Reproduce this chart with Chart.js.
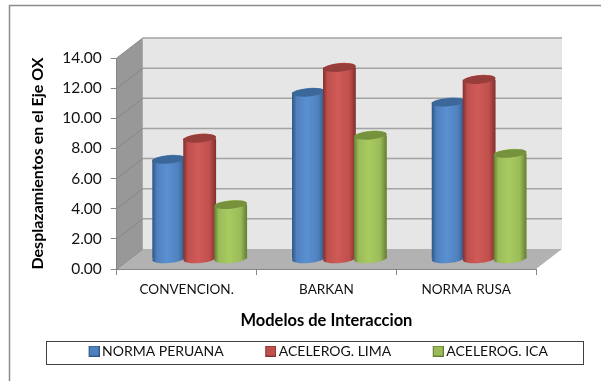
<!DOCTYPE html>
<html>
<head>
<meta charset="utf-8">
<style>
  html, body { margin: 0; padding: 0; background: #fff; }
  canvas { display: block; }
</style>
<script src="https://cdn.jsdelivr.net/npm/chart.js@4"></script>
</head>
<body>
<canvas id="chart" width="601" height="381"></canvas>
<script>
const modelos = ['CONVENCION.', 'BARKAN', 'NORMA RUSA'];
const normaPeruana = [6.6, 11.05, 10.4];
const acelerogLima = [8.0, 12.7, 11.9];
const acelerogIca = [3.6, 8.2, 7.0];
const yTicks = ['0.00', '2.00', '4.00', '6.00', '8.00', '10.00', '12.00', '14.00'];

const FONT = 'Lato, Carlito, Calibri, sans-serif';

// depth of the 3D box, and where the cylinders stand inside it
const DEPTH_X = 26;
const DEPTH_Y = -20;
const BAR_DX = 13;
const BAR_DY = -10;
const CAP_RY = 4.6;
const CAP_TILT = -0.09;

const palette = [
  { base: '#4f81bd', edge: '#2f5687', light: '#5a90d2', cap: '#3c6899' },
  { base: '#c0504d', edge: '#7f302e', light: '#d05a57', cap: '#973e3b' },
  { base: '#9bbb59', edge: '#637d31', light: '#a8cb60', cap: '#76923c' }
];

function createDataset(label, data, i) {
  return {
    label: label,
    data: data,
    backgroundColor: palette[i].base,
    borderWidth: 0,
    barPercentage: 1.06,
    categoryPercentage: 0.665
  };
}

// legend key: drawn at the right end of a wider canvas so it hugs the label
function swatch(p) {
  let c = document.createElement('canvas');
  c.width = 23;
  c.height = 11;
  let g = c.getContext('2d');
  g.fillStyle = p.base;
  g.fillRect(12, 0, 11, 11);
  g.strokeStyle = p.edge;
  g.strokeRect(12.5, 0.5, 10, 10);
  return c;
}

function drawBox(chart) {
  const ctx = chart.ctx;
  const x = chart.scales.x;
  const y = chart.scales.y;
  const l = x.left, r = x.right, t = y.top, b = y.bottom;

  ctx.save();
  // back wall
  ctx.fillStyle = '#e6e6e6';
  ctx.fillRect(l + DEPTH_X, t + DEPTH_Y, r - l, b - t);
  // side wall
  ctx.fillStyle = '#989898';
  ctx.beginPath();
  ctx.moveTo(l, b);
  ctx.lineTo(l + DEPTH_X, b + DEPTH_Y);
  ctx.lineTo(l + DEPTH_X, t + DEPTH_Y);
  ctx.lineTo(l, t);
  ctx.closePath();
  ctx.fill();
  // floor
  ctx.fillStyle = '#b2b2b2';
  ctx.beginPath();
  ctx.moveTo(l, b);
  ctx.lineTo(r, b);
  ctx.lineTo(r + DEPTH_X, b + DEPTH_Y);
  ctx.lineTo(l + DEPTH_X, b + DEPTH_Y);
  ctx.closePath();
  ctx.fill();
  // gridlines wrap round the side and back walls
  y.ticks.forEach((tick) => {
    const py = y.getPixelForValue(tick.value);
    if (tick.value > 0) {
      ctx.strokeStyle = '#a3a3a3';
      ctx.lineWidth = 1.5;
      ctx.beginPath();
      ctx.moveTo(l + DEPTH_X, py + DEPTH_Y);
      ctx.lineTo(r + DEPTH_X, py + DEPTH_Y);
      ctx.stroke();
    }
    ctx.strokeStyle = '#868686';
    ctx.lineWidth = 1;
    ctx.beginPath();
    ctx.moveTo(l, py);
    ctx.lineTo(l + DEPTH_X, py + DEPTH_Y);
    ctx.stroke();
  });
  ctx.restore();
}

function cylinderFill(ctx, el, p) {
  const left = el.x - el.width / 2;
  const g = ctx.createLinearGradient(left, 0, left + el.width, 0);
  g.addColorStop(0, p.edge);
  g.addColorStop(0.14, p.base);
  g.addColorStop(0.45, p.light);
  g.addColorStop(0.8, p.base);
  g.addColorStop(1, p.edge);
  return g;
}

const cylinders = {
  id: 'cylinders',
  beforeDraw: drawBox,
  afterDatasetsUpdate(chart) {
    chart.data.datasets.forEach((ds, i) => {
      chart.getDatasetMeta(i).data.forEach((el) => {
        el.options = Object.assign({}, el.options, { backgroundColor: cylinderFill(chart.ctx, el, palette[i]) });
      });
    });
  },
  // series go left to right so that each one sits over the one before it
  beforeDatasetsDraw(chart) {
    const ctx = chart.ctx;
    chart.data.datasets.forEach((ds, i) => {
      const meta = chart.getDatasetMeta(i);
      ctx.save();
      ctx.translate(BAR_DX, BAR_DY);
      meta.data.forEach((el) => {
        ctx.fillStyle = el.options.backgroundColor;
        ctx.beginPath();
        ctx.ellipse(el.x, el.base, el.width / 2, CAP_RY, CAP_TILT, 0, Math.PI * 2);
        ctx.fill();
      });
      meta.controller.draw();
      meta.data.forEach((el) => {
        ctx.fillStyle = el.options.backgroundColor;
        ctx.beginPath();
        ctx.ellipse(el.x, el.y, el.width / 2, CAP_RY, CAP_TILT, 0, Math.PI * 2);
        ctx.fill();
        ctx.fillStyle = palette[i].cap;
        ctx.beginPath();
        ctx.ellipse(el.x, el.y, el.width / 2 - 0.5, CAP_RY - 0.5, CAP_TILT, 0, Math.PI * 2);
        ctx.fill();
      });
      ctx.restore();
    });
    return false;
  },
  afterLayout(chart) {
    const legend = chart.legend;
    legend.left = 0;
    legend.right = 629;
    legend.top = 352.5 - legend.options.labels.padding - 8.4;
    legend.bottom = 381;
  },
  afterDraw(chart) {
    const ctx = chart.ctx;
    ctx.save();
    // outer frame, legend frame
    ctx.strokeStyle = '#8c8c8c';
    ctx.lineWidth = 1.5;
    ctx.beginPath();
    ctx.moveTo(9.5, 381);
    ctx.lineTo(9.5, 5.5);
    ctx.lineTo(601, 5.5);
    ctx.stroke();
    ctx.strokeStyle = '#404040';
    ctx.lineWidth = 1;
    ctx.strokeRect(46.5, 341.5, 537, 23);
    ctx.restore();
  }
};

const swatches = palette.map(swatch);

new Chart(document.getElementById('chart').getContext('2d'), {
  type: 'bar',
  data: {
    labels: modelos,
    datasets: [
      createDataset('NORMA PERUANA', normaPeruana, 0),
      createDataset('ACELEROG. LIMA', acelerogLima, 1),
      createDataset('ACELEROG. ICA', acelerogIca, 2)
    ]
  },
  options: {
    responsive: false,
    animation: false,
    layout: {
      padding: { top: 58, right: 65, left: 0, bottom: -8 }
    },
    scales: {
      x: {
        grid: { drawOnChartArea: false, color: '#868686', tickLength: 6 },
        border: { color: '#868686' },
        ticks: { color: '#111', font: { family: FONT, size: 13.5 }, maxRotation: 0, padding: 7 },
        title: {
          display: true,
          text: 'Modelos de Interaccion',
          color: '#000',
          font: { family: FONT, size: 16.5, weight: 'bold' },
          padding: { top: 6, bottom: 0 }
        }
      },
      y: {
        min: 0,
        max: 14,
        afterBuildTicks: (scale) => {
          scale.ticks = yTicks.map((t) => ({ value: Number(t) }));
        },
        grid: { drawOnChartArea: false, color: '#868686', tickLength: 6 },
        border: { color: '#868686' },
        ticks: {
          color: '#111',
          font: { family: FONT, size: 15.5 },
          padding: 9,
          callback: (value) => value.toFixed(2)
        },
        title: {
          display: true,
          text: 'Desplazamientos en el Eje OX',
          color: '#000',
          font: { family: FONT, size: 16, weight: 'bold' },
          padding: { top: 28, bottom: 6 }
        }
      }
    },
    plugins: {
      tooltip: { enabled: false },
      legend: {
        position: 'bottom',
        labels: {
          color: '#111',
          font: { family: FONT, size: 14 },
          usePointStyle: true,
          boxWidth: 14,
          padding: 34,
          generateLabels: (chart) => Chart.defaults.plugins.legend.labels.generateLabels(chart).map((item, i) => {
            item.pointStyle = swatches[i];
            return item;
          })
        }
      }
    }
  },
  plugins: [cylinders]
});
</script>
</body>
</html>
